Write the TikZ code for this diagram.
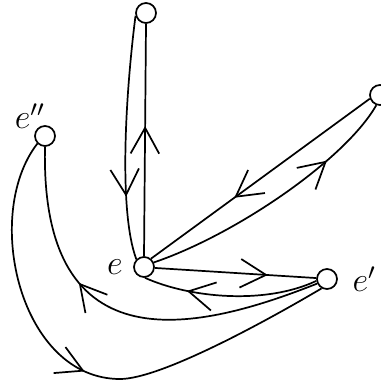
\documentclass[tikz,border=0pt]{standalone}
\usetikzlibrary{arrows.meta,decorations.markings}
\begin{document}
\begin{tikzpicture}[x=0.35pt,y=-0.35pt,line width=0.6pt,font=\large,
  vert/.style={draw,circle,inner sep=0pt,minimum size=7pt},
  midarrow/.style={postaction={decorate},decoration={markings,
    mark=at position #1 with {\arrow{Straight Barb[length=9pt,width=10pt]}}}}]
  \useasboundingbox (0,0) rectangle (380,381);
  \node[vert] (e) at (144,267) {};
  \node[vert] (top) at (146,13) {};
  \node[vert] (rt) at (380,95) {};
  \node[vert] (ep) at (327,279) {};
  \node[vert] (epp) at (45,136) {};
  \coordinate (low) at (120,379);
  \node[left] (le) at (e.west) {$e$};
  \node[right=1.5pt] (lep) at (ep.east) {$e'$};
  \node (lepp) at (30,116) {$e''$};
  \draw[midarrow=0.56] (e.north) -- (top.south);
  \draw[midarrow=0.74] (top.195) .. controls (126,90) and (118,210) .. (e.135);
  \draw[midarrow=0.62] (rt.200) -- (e.50);
  \draw[midarrow=0.73] (e.25) .. controls (235,235) and (345,160) .. (rt.250);
  \draw[midarrow=0.70] (e.-5) -- (ep.175);
  \draw[midarrow=0.75] (ep.190) .. controls (265,305) and (190,298) .. (e.-85);
  \draw[midarrow=0.64] (ep.205) .. controls (200,330) and (40,370) .. (epp.south);
  \draw[midarrow=0.50] (epp.225) .. controls (-18,215) and (20,379) .. (low)
    .. controls (160,379) and (263,323) .. (ep.240);
\end{tikzpicture}
\end{document}
